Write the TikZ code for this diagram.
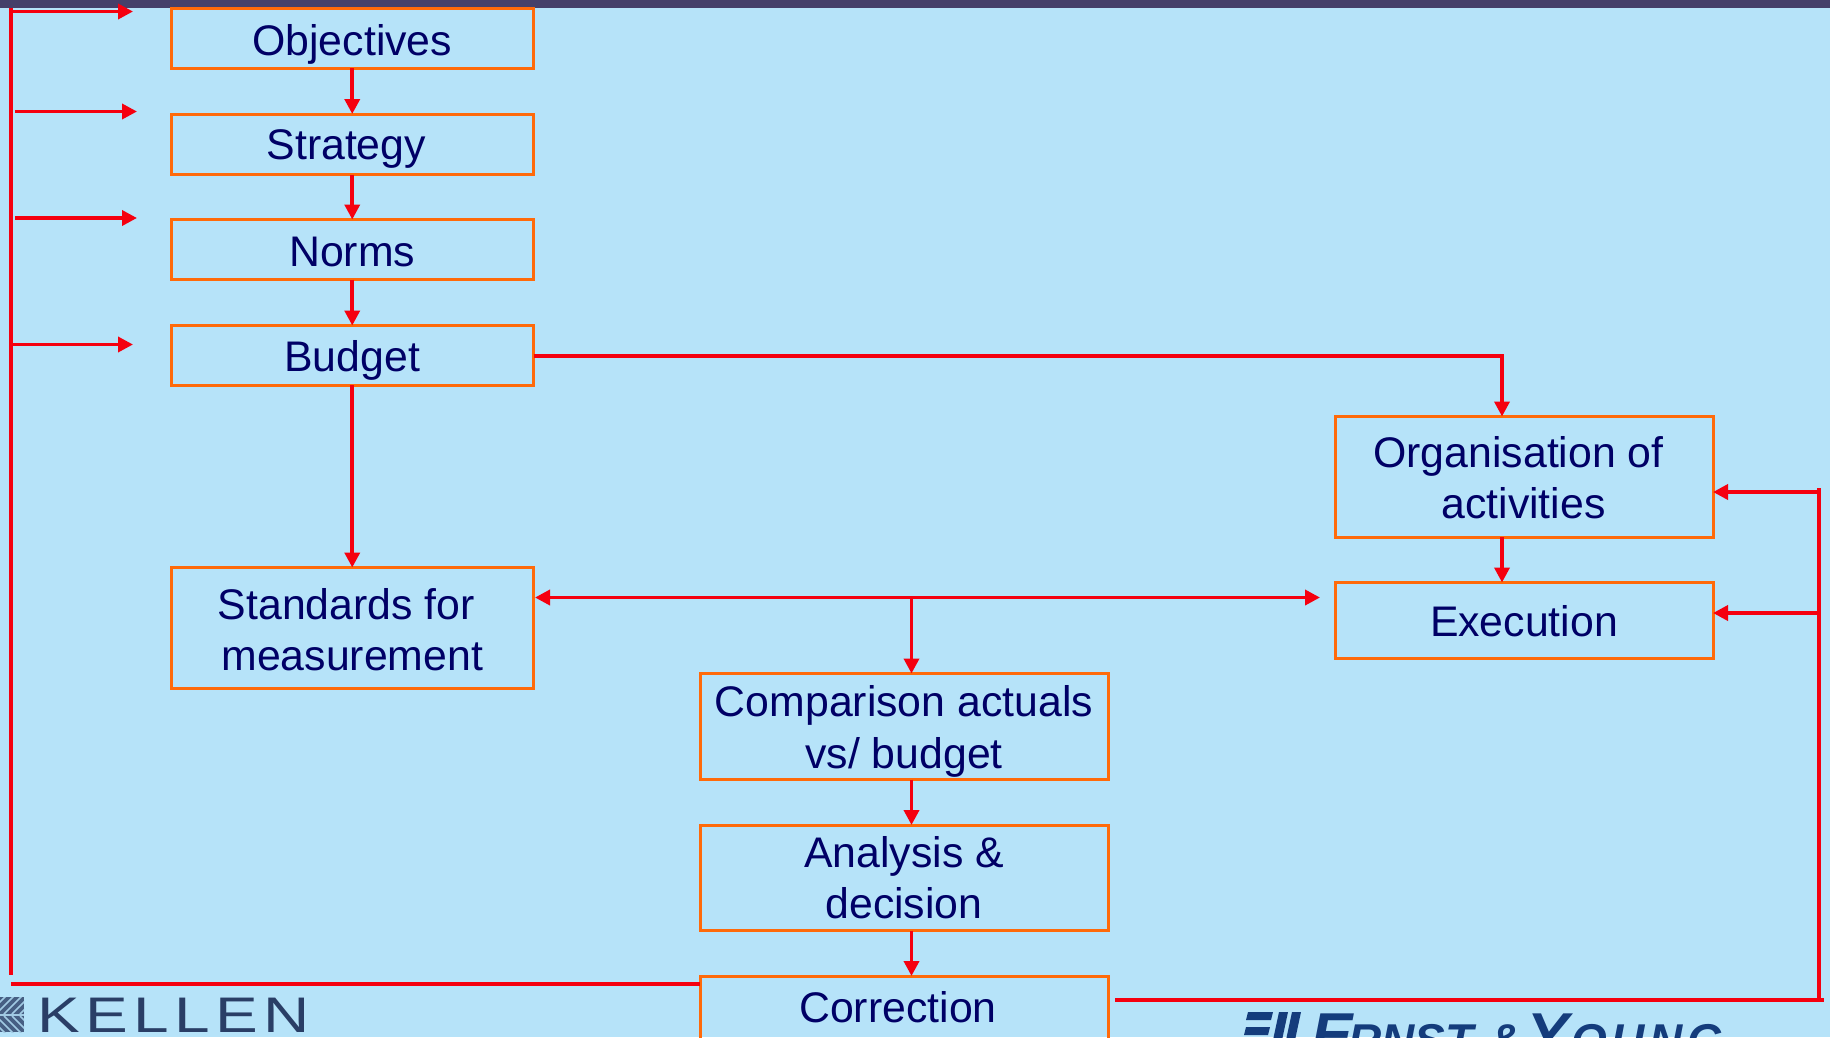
\documentclass[tikz,border=0pt]{standalone}
\usepackage{fontspec}
\setmainfont{Liberation Sans}
\newfontfamily\kellenfont[LetterSpace=11,FakeStretch=1.28]{Liberation Sans}
\newfontfamily\eyspaced[LetterSpace=10]{Liberation Sans}
\usetikzlibrary{arrows.meta}
\definecolor{bgblue}{HTML}{B6E3F9}
\definecolor{topbar}{HTML}{45406A}
\definecolor{boxedge}{HTML}{FF6A0A}
\definecolor{txtnavy}{HTML}{000066}
\definecolor{linered}{HTML}{F5000F}
\definecolor{kellenblue}{HTML}{2A3E66}
\definecolor{eyblue}{HTML}{143C7C}
\tikzset{
  boxnode/.style={draw=boxedge,line width=3pt,fill=none,rectangle,inner sep=0pt,outer sep=0pt,text=txtnavy},
  boxtxt/.style={text=txtnavy,align=center,font=\fontsize{42.8}{51.5}\selectfont,inner sep=0pt,label distance=0pt},
  wire/.style={draw=linered,line width=3.6pt},
  arrowline/.style={wire,-{Triangle[length=15pt,width=15pt]},shorten >=0pt},
  bothline/.style={wire,{Triangle[length=15pt,width=15pt]}-{Triangle[length=15pt,width=15pt]}},
}
\newcommand{\bx}[7]{% name, x1, y1, x2, y2, shifts, text
  \node[boxnode,minimum width={#4-#2},minimum height={#5-#3},
        label={[boxtxt,#6]center:{#7}}] (#1) at ({(#2+#4)/2},{(#3+#5)/2}) {};}
\begin{document}
\begin{tikzpicture}[x=1pt,y=-1pt]
\useasboundingbox (0,0) rectangle (1830,1037);
\begin{scope}
\clip (0,0) rectangle (1830,1037);
\fill[bgblue] (0,0) rectangle (1830,1037);
\fill[topbar] (0,0) rectangle (1830,8);

% boxes
\bx{obj}{171}{8}{533.5}{68}{yshift=-6pt}{Objectives}
\bx{str}{171}{114}{533.5}{174.5}{xshift=-6pt,yshift=-5pt}{Strategy}
\bx{nor}{171}{219.5}{533.5}{279.5}{yshift=-2pt}{Norms}
\bx{bud}{171}{325.5}{533.5}{385}{yshift=-5pt}{Budget}
\bx{sta}{171}{567.5}{533.5}{688}{xshift=-6pt,yshift=-2pt}{Standards for\\\hspace*{12pt}measurement}
\bx{org}{1335}{416.5}{1713}{537}{xshift=-5.5pt,yshift=-1pt}{Organisation of\\\hspace*{10pt}activities}
\bx{exe}{1335}{582.5}{1713}{658.5}{yshift=-1pt}{Execution}
\bx{cmp}{700}{673.5}{1108}{779.5}{yshift=-5pt}{Comparison actuals\\[1pt]vs/ budget}
\bx{ana}{700}{825}{1108}{930.5}{yshift=0pt}{Analysis \&\\decision}
\bx{cor}{700}{976}{1108}{1050}{xshift=-6pt,yshift=5.5pt}{Correction}

% free ends and junctions
\coordinate (feTop) at (11,8);
\coordinate (feBot) at (11,975);
\coordinate (a1s) at (11,11.5);  \coordinate (a1e) at (133,11.5);
\coordinate (a2s) at (15,111.5); \coordinate (a2e) at (137,111.5);
\coordinate (a3s) at (15,218);   \coordinate (a3e) at (137,218);
\coordinate (a4s) at (11,344.5); \coordinate (a4e) at (133,344.5);
\coordinate (feBot2) at (11,984);
\coordinate (corOut) at (1115,1000);
\coordinate (rc) at (1824,1000);
\coordinate (rv) at (1819,1000);
\coordinate (rvTop) at (1819,488);
\coordinate (feedA) at (1819,492);
\coordinate (feedB) at (1819,613);
\coordinate (hubL) at (535,597.5);
\coordinate (hubR) at (1320,597.5);
\coordinate (hub) at (911.5,597.5);

% left rail
\draw[wire] (feTop) -- (feBot);
\draw[arrowline] (a1s) -- (a1e);
\draw[arrowline] (a2s) -- (a2e);
\draw[arrowline] (a3s) -- (a3e);
\draw[arrowline] (a4s) -- (a4e);
\draw[wire] (feBot2) -- (feBot2 -| cor.west);

% column
\draw[arrowline] (obj) -- (str);
\draw[arrowline] (str) -- (nor);
\draw[arrowline] (nor) -- (bud);
\draw[arrowline] (bud) -- (sta);

% to organisation
\draw[arrowline] ([yshift=-0.7pt]bud.east) -| ([xshift=-22pt]org.north);
\draw[arrowline] ([xshift=-22pt]org.south) -- ([xshift=-22pt]exe.north);

% measurement bar
\draw[bothline] (hubL) -- (hubR);
\draw[arrowline] (hub) -- (hub |- cmp.north);
\draw[arrowline] (hub |- cmp.south) -- (hub |- ana.north);
\draw[arrowline] (hub |- ana.south) -- (hub |- cor.north);

% right feedback
\draw[wire] (corOut) -- (rc);
\draw[wire] (rv) -- (rvTop);
\draw[arrowline] (feedA) -- (feedA -| org.east);
\draw[arrowline] (feedB) -- (feedB -| exe.east);

% Kellen logo
\begin{scope}
\clip (0,997) rectangle (24,1032);
\fill[kellenblue!80!bgblue] (0,997) rectangle (24,1032);
\foreach \k in {-24,-16,...,24}{
  \draw[bgblue!85!kellenblue,line width=1.6pt] (12+\k,1014) -- (12+\k+18,996);
  \draw[bgblue!85!kellenblue,line width=1.6pt] (12+\k,1016) -- (12+\k+18,1034);
}
\draw[bgblue!85!kellenblue,line width=2pt] (0,1015) -- (24,1015);
\end{scope}
\node[anchor=base west,inner sep=0pt,text=kellenblue,font=\kellenfont\fontsize{50}{50}\selectfont] (kellen) at (37,1032) {KELLEN};

% Ernst & Young logo
\fill[eyblue] (1248,1012) -- (1273,1012) -- (1271,1020) -- (1246,1020) -- cycle;
\fill[eyblue] (1246,1027) -- (1270,1027) -- (1268,1035) -- (1244,1035) -- cycle;
\fill[eyblue] (1279,1012) -- (1288,1012) -- (1282,1040) -- (1273,1040) -- cycle;
\fill[eyblue] (1292,1012) -- (1301,1012) -- (1295,1040) -- (1286,1040) -- cycle;
\node[anchor=base west,inner sep=0pt,text=eyblue,font=\itshape\bfseries\fontsize{46}{46}\selectfont] (ey) at (1311,1056)
  {{\fontsize{62}{62}\selectfont E}\kern-4pt RNST\kern15pt\&\kern5pt{\fontsize{62}{62}\selectfont Y}\kern3pt{\eyspaced\itshape\bfseries\fontsize{46}{46}\selectfont OUNG}};
\end{scope}
\end{tikzpicture}
\end{document}
